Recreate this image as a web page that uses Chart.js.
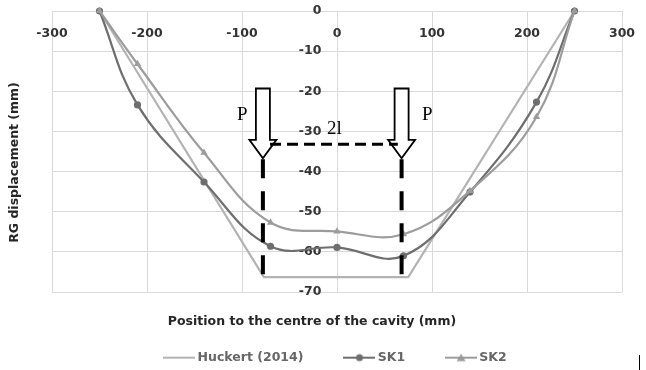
<!DOCTYPE html>
<html>
<head>
<meta charset="utf-8">
<script src="https://cdn.jsdelivr.net/npm/chart.js@4/dist/chart.umd.min.js"></script>
<style>
  html, body { margin: 0; padding: 0; background: #ffffff; }
  #c { display: block; }
</style>
</head>
<body>
<canvas id="c" width="646" height="370"></canvas>
<script>
// ---- data ----
const positions = [-250, -210, -140, -70, 0, 70, 140, 210, 250];
const sk1Values = [0, -23.4, -42.6, -58.6, -58.9, -61.0, -45.1, -22.7, 0];
const sk2Values = [0, -13.2, -35.3, -52.7, -54.9, -55.6, -44.8, -26.4, 0];
const huckertPositions = [-250, -77, 75, 250];
const huckertValues = [0, -66.3, -66.3, 0];
const xTickValues = [-300, -200, -100, 0, 100, 200, 300];
const yTickValues = [0, -10, -20, -30, -40, -50, -60, -70];
const seriesNames = ['Huckert (2014)', 'SK1', 'SK2'];
const xTitle = 'Position to the centre of the cavity (mm)';
const yTitle = 'RG displacement (mm)';

const colHuckert = '#b3b3b3';
const colSK1 = '#6e6e6e';
const colSK2 = '#9c9c9c';
const FONT = '"DejaVu Sans", sans-serif';

function pairs(xs, ys) { return xs.map((x, i) => ({ x: x, y: ys[i] })); }

function legendSample(color, marker) {
  const c = document.createElement('canvas');
  c.width = 32; c.height = 10;
  const g = c.getContext('2d');
  g.strokeStyle = color; g.lineWidth = 2;
  g.beginPath(); g.moveTo(0, 5); g.lineTo(32, 5); g.stroke();
  g.fillStyle = color;
  if (marker === 'circle') {
    g.beginPath(); g.arc(16, 5, 3.5, 0, Math.PI * 2); g.fill();
  } else if (marker === 'triangle') {
    g.beginPath(); g.moveTo(16, 1); g.lineTo(20.5, 8.5); g.lineTo(11.5, 8.5); g.closePath(); g.fill();
  }
  return c;
}
const samples = [legendSample(colHuckert, null), legendSample(colSK1, 'circle'), legendSample(colSK2, 'triangle')];

const decor = {
  id: 'decor',
  afterDatasetsDraw(chart) {
    const ctx = chart.ctx;
    const xs = chart.scales.x, ys = chart.scales.y;
    ctx.save();
    function arrow(xv) {
      const cx = xs.getPixelForValue(xv);
      const top = ys.getPixelForValue(-19.3);
      const base = ys.getPixelForValue(-32.1);
      const tip = ys.getPixelForValue(-36.7);
      ctx.beginPath();
      ctx.moveTo(cx - 7, top); ctx.lineTo(cx + 7, top); ctx.lineTo(cx + 7, base);
      ctx.lineTo(cx + 13.5, base); ctx.lineTo(cx, tip); ctx.lineTo(cx - 13.5, base);
      ctx.lineTo(cx - 7, base); ctx.closePath();
      ctx.fillStyle = '#ffffff'; ctx.fill();
      ctx.lineWidth = 1.8; ctx.strokeStyle = '#000000'; ctx.lineJoin = 'miter'; ctx.stroke();
    }
    arrow(-78);
    arrow(68);
    ctx.strokeStyle = '#000000';
    ctx.lineWidth = 3;
    ctx.setLineDash([11, 6]);
    ctx.beginPath();
    ctx.moveTo(xs.getPixelForValue(-70.5), ys.getPixelForValue(-33.2));
    ctx.lineTo(xs.getPixelForValue(64), ys.getPixelForValue(-33.2));
    ctx.stroke();
    ctx.lineWidth = 4;
    ctx.setLineDash([19, 13]);
    [-78, 68].forEach(v => {
      const px = xs.getPixelForValue(v);
      ctx.beginPath();
      ctx.moveTo(px, ys.getPixelForValue(-36.9));
      ctx.lineTo(px, ys.getPixelForValue(-66.3));
      ctx.stroke();
    });
    ctx.setLineDash([]);
    ctx.fillStyle = '#000000';
    ctx.font = '19px "Liberation Serif", serif';
    ctx.textBaseline = 'alphabetic';
    ctx.textAlign = 'left';
    ctx.fillText('P', xs.getPixelForValue(-78) - 26, ys.getPixelForValue(-27.2));
    ctx.fillText('P', xs.getPixelForValue(68) + 20.5, ys.getPixelForValue(-27.2));
    ctx.fillText('2l', xs.getPixelForValue(-10.5), ys.getPixelForValue(-30.6));
    ctx.restore();
  },
  afterDraw(chart) {
    const ctx = chart.ctx;
    const a = chart.chartArea;
    ctx.save();
    ctx.fillStyle = '#262626';
    ctx.font = 'bold 12.5px ' + FONT;
    ctx.textAlign = 'center';
    ctx.textBaseline = 'middle';
    ctx.fillText(xTitle, a.left + 260, a.bottom + 30);
    ctx.translate(15, (a.top + a.bottom) / 2 + 11);
    ctx.rotate(-Math.PI / 2);
    ctx.fillText(yTitle, 0, 0);
    ctx.restore();
    ctx.save();
    ctx.fillStyle = '#000000';
    ctx.fillRect(639, 355, 1, 15);
    ctx.restore();
  }
};

new Chart(document.getElementById('c'), {
  type: 'line',
  data: {
    datasets: [
      {
        label: seriesNames[0], data: pairs(huckertPositions, huckertValues),
        borderColor: colHuckert, backgroundColor: colHuckert, borderWidth: 2.2,
        pointRadius: 0, tension: 0, order: 3, clip: false
      },
      {
        label: seriesNames[1], data: pairs(positions, sk1Values),
        borderColor: colSK1, backgroundColor: colSK1, borderWidth: 2.2,
        pointStyle: 'circle', pointRadius: 3.6, pointBorderWidth: 0,
        tension: 0.4, order: 2, clip: false
      },
      {
        label: seriesNames[2], data: pairs(positions, sk2Values),
        borderColor: colSK2, backgroundColor: colSK2, borderWidth: 2.2,
        pointStyle: 'triangle', pointRadius: 4.2, pointBorderWidth: 0,
        tension: 0.4, order: 1, clip: false
      }
    ]
  },
  options: {
    responsive: false,
    animation: false,
    layout: { padding: { left: 52, right: 24, top: 11, bottom: 0 } },
    scales: {
      x: {
        type: 'linear', min: -300, max: 300,
        position: { y: 0 },
        afterBuildTicks: s => { s.ticks = xTickValues.map(v => ({ value: v })); },
        grid: { color: '#d9d9d9', lineWidth: 1, drawTicks: true, tickLength: 15, tickColor: 'rgba(0,0,0,0)' },
        border: { display: true, color: '#d9d9d9' },
        ticks: { color: '#333333', font: { family: FONT, size: 12.5, weight: 'bold' }, padding: 0, maxRotation: 0 }
      },
      y: {
        type: 'linear', min: -70, max: 0,
        position: { x: -16.5 },
        afterBuildTicks: s => { s.ticks = yTickValues.map(v => ({ value: v })); },
        grid: { color: '#d9d9d9', lineWidth: 1, drawTicks: false },
        border: { display: false },
        ticks: { color: '#333333', font: { family: FONT, size: 12.5, weight: 'bold' }, padding: 0 }
      }
    },
    plugins: {
      tooltip: { enabled: false },
      legend: {
        position: 'bottom',
        maxHeight: 78,
        title: { display: true, text: '', padding: { top: 0, bottom: 1 }, font: { size: 12 } },
        labels: {
          usePointStyle: true,
          pointStyleWidth: 24,
          padding: 44,
          color: '#262626',
          font: { family: FONT, size: 12.5, weight: 'bold' },
          generateLabels: chart => chart.data.datasets.map((ds, i) => ({
            text: ds.label,
            pointStyle: samples[i],
            fillStyle: ds.borderColor,
            strokeStyle: ds.borderColor,
            lineWidth: 0,
            hidden: !chart.isDatasetVisible(i),
            datasetIndex: i
          }))
        }
      }
    }
  },
  plugins: [decor]
});
</script>
</body>
</html>
